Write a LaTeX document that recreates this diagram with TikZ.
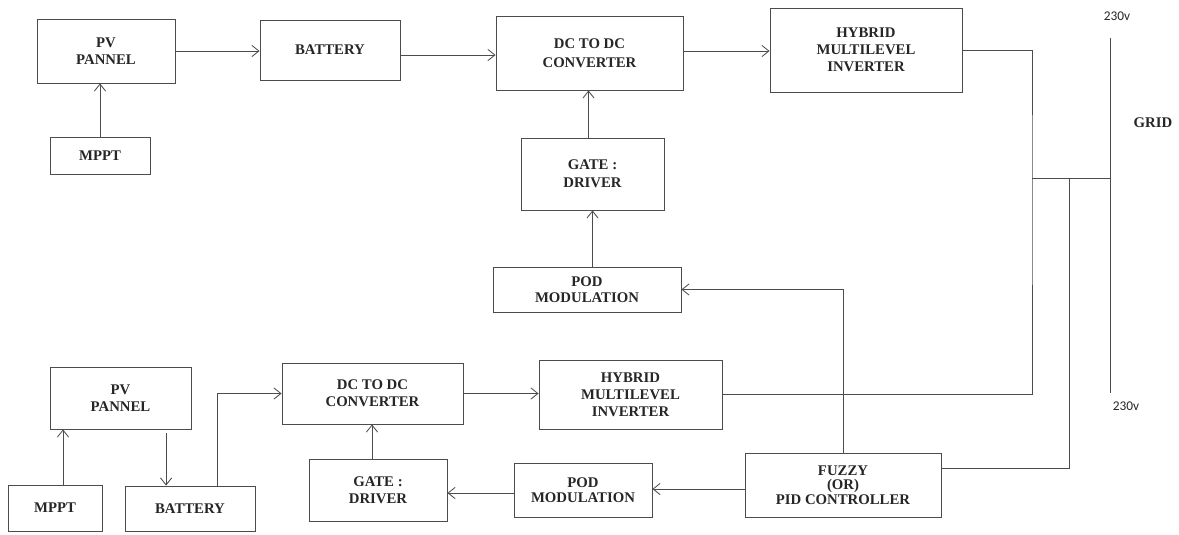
\documentclass[tikz,border=0pt]{standalone}
\usepackage{fontspec}
\setmainfont{Liberation Serif}
\newfontfamily\voltfont{Carlito}
\usepackage{tikz}
\usetikzlibrary{positioning,arrows.meta}
\tikzset{blk/.style={rectangle,draw=black!70,line width=0.6pt,align=center,inner sep=1pt,
    font=\bfseries\fontsize{10.5}{12}\selectfont,text=black!85}}
\tikzset{wire/.style={draw=black!70,line width=0.6pt}}

\begin{document}
\begin{tikzpicture}[>={Straight Barb[length=5pt,width=8pt]},x=0.025cm,y=-0.025cm]
    \useasboundingbox (0,0) rectangle (1179,534);
    % upper chain
    \node[blk,minimum width=3.45cm,minimum height=1.6cm] (pv1)at (106,51) {PV\\PANNEL};
    \node[blk,minimum width=2.5cm,minimum height=0.925cm] (mppt1)at (100,155.5) {MPPT};
    \node[blk,minimum width=3.5cm,minimum height=1.5cm] (bat1)at (330,50) {BATTERY};
    \node[blk,minimum width=4.675cm,minimum height=1.85cm,font=\bfseries\fontsize{10.5}{13.5}\selectfont] (dc1)at (589.5,53) {DC TO DC\\CONVERTER};
    \node[blk,minimum width=4.8cm,minimum height=2.1cm] (hyb1)at (866,50) {HYBRID\\MULTILEVEL\\INVERTER};
    \node[blk,minimum width=3.575cm,minimum height=1.8cm,font=\bfseries\fontsize{10.5}{13}\selectfont] (gate1)at (592.5,174) {GATE :\\DRIVER};
    \node[blk,minimum width=4.7cm,minimum height=1.125cm,font=\bfseries\fontsize{10.5}{11}\selectfont] (pod1)at (587,289.5) {POD\\MODULATION};

    % lower chain
    \node[blk,minimum width=3.525cm,minimum height=1.55cm] (pv2)at (120.5,398) {PV\\PANNEL};
    \node[blk,minimum width=2.35cm,minimum height=1.15cm] (mppt2)at (55,508) {MPPT};
    \node[blk,minimum width=3.25cm,minimum height=1.125cm] (bat2)at (190,508.5) {BATTERY};
    \node[blk,minimum width=4.525cm,minimum height=1.525cm] (dc2)at (372.5,393.5) {DC TO DC\\CONVERTER};
    \node[blk,minimum width=3.45cm,minimum height=1.55cm] (gate2)at (378,490) {GATE :\\DRIVER};
    \node[blk,minimum width=4.575cm,minimum height=1.725cm] (hyb2)at (630.5,394.5) {HYBRID\\MULTILEVEL\\INVERTER};
    \node[blk,minimum width=3.45cm,minimum height=1.35cm,font=\bfseries\fontsize{10.5}{11}\selectfont] (pod2)at (583,490) {POD\\MODULATION};
    \node[blk,minimum width=4.9cm,minimum height=1.6cm,font=\bfseries\fontsize{10.5}{10.5}\selectfont] (fuzzy)at (843,485) {FUZZY\\(OR)\\PID CONTROLLER};

    % grid
    \coordinate (j1)at (1032,178);
    \coordinate (j2)at (1069,178);
    \coordinate (gj)at (1110,178);
    \coordinate (gt)at (1110,38);
    \coordinate (gb)at (1110,393);
    \node[font=\voltfont\fontsize{9.5}{10}\selectfont,text=black!85] (v1)at (1117,16) {230v};
    \node[font=\voltfont\fontsize{9.5}{10}\selectfont,text=black!85] (v2)at (1126,406) {230v};
    \node[font=\bfseries\fontsize{10.5}{12}\selectfont,text=black!85] (grid)at (1153,123) {GRID};

    \draw [wire,->] (mppt1.north) to (mppt1.north |- pv1.south);
    \draw [wire,->] (pv1.east) to (pv1.east -| bat1.west);
    \draw [wire,->] ([yshift=-0.125cm]bat1.east) to ([yshift=-0.125cm]bat1.east -| dc1.west);
    \draw [wire,->] ([yshift=0.05cm]dc1.east) to ([yshift=0.05cm]dc1.east -| hyb1.west);
    \draw [wire,->] ([xshift=-0.1cm]gate1.north) to ([xshift=-0.1cm]gate1.north |- dc1.south);
    \draw [wire,->] (pod1.north -| gate1.south) to (gate1.south);
    \draw [wire,->] (fuzzy.north) |- (pod1.east);

    \draw [wire,->] ([xshift=0.2cm]mppt2.north) to ([xshift=0.2cm]mppt2.north |- pv2.south);
    \draw [wire,->] ([xshift=1.14cm,yshift=-0.1cm]pv2.south) to ([xshift=1.14cm]pv2.south |- bat2.north);
    \draw [wire,->] ([xshift=0.675cm]bat2.north) |- (dc2.west);
    \draw [wire,->] ([xshift=-0.15cm]gate2.north) to ([xshift=-0.15cm]gate2.north |- dc2.south);
    \draw [wire,->] (dc2.east) to (dc2.east -| hyb2.west);
    \draw [wire,->] ([yshift=-0.1cm]fuzzy.west) to ([yshift=-0.1cm]fuzzy.west -| pod2.east);
    \draw [wire,->] ([yshift=-0.075cm]pod2.west) to ([yshift=-0.075cm]pod2.west -| gate2.east);

    \draw [wire] (hyb1.east) -| (j1) |- (hyb2.east);
    \draw [wire] (j1) to (gj);
    \draw [wire] (j2) |- ([yshift=0.425cm]fuzzy.east);
    \draw [wire] (gt) to (gb);
\end{tikzpicture}
\end{document}
